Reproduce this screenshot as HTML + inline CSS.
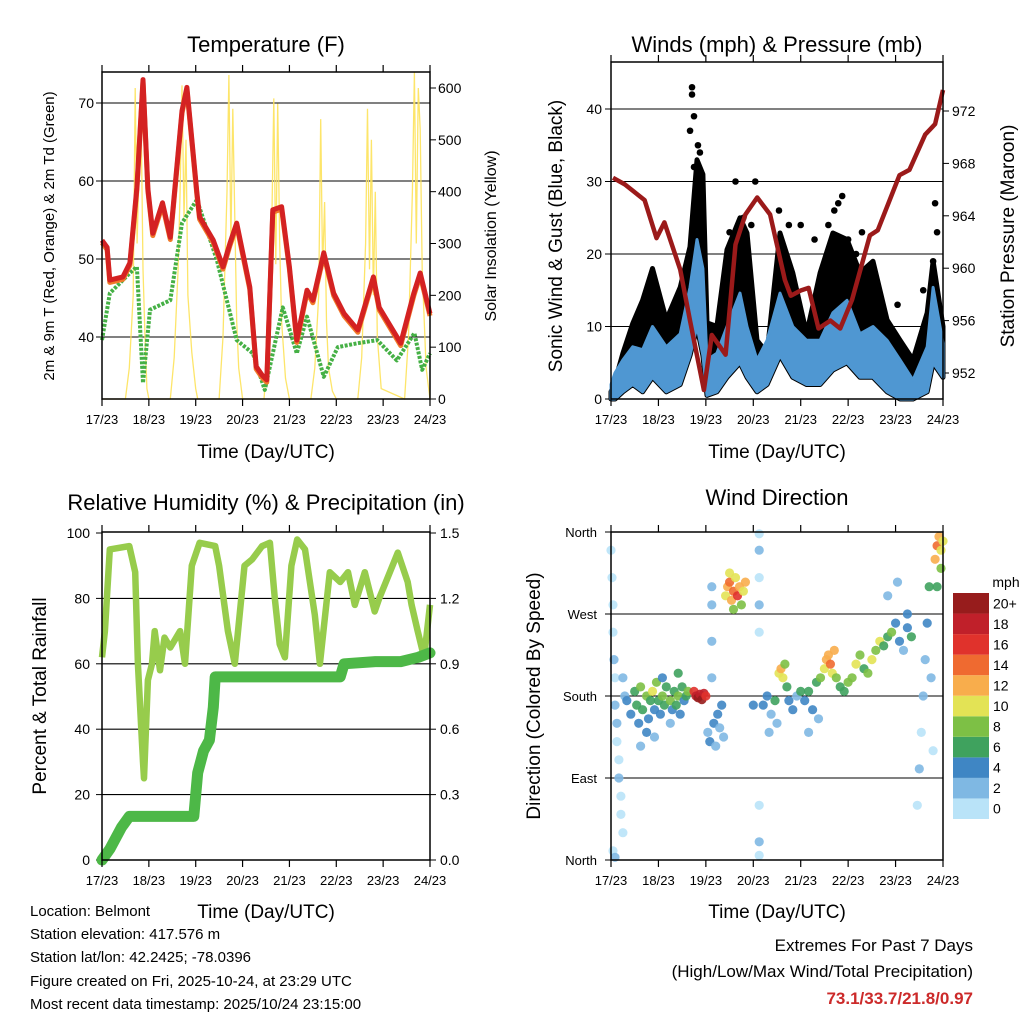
<!DOCTYPE html>
<html><head><meta charset="utf-8">
<style>
html,body{margin:0;padding:0;background:#fff;}
svg{display:block;font-family:"Liberation Sans",Arial,sans-serif;}
</style></head>
<body>
<svg id="fig" width="1024" height="1024" viewBox="0 0 1024 1024" xmlns="http://www.w3.org/2000/svg">
<g id="layer"></g>
<text x="30" y="916" font-size="15">Location: Belmont</text>
<text x="30" y="939" font-size="15">Station elevation: 417.576 m</text>
<text x="30" y="962" font-size="15">Station lat/lon: 42.2425; -78.0396</text>
<text x="30" y="986" font-size="15">Figure created on Fri, 2025-10-24, at 23:29 UTC</text>
<text x="30" y="1009" font-size="15">Most recent data timestamp: 2025/10/24 23:15:00</text>
<text x="973" y="951" font-size="17" text-anchor="end">Extremes For Past 7 Days</text>
<text x="973" y="977" font-size="17" text-anchor="end">(High/Low/Max Wind/Total Precipitation)</text>
<text x="973" y="1004" font-size="17" font-weight="bold" fill="#cc2a2a" text-anchor="end">73.1/33.7/21.8/0.97</text>
</svg>
<script>
// ---------- DATA ----------
const xTickLabels = ["17/23","18/23","19/23","20/23","21/23","22/23","23/23","24/23"];
// Temperature panel
const tHours = [0,2.6,4,10.7,14.3,17.9,21,23.5,26,31,35,36.3,41,43.5,48.6,50,57,62,65.5,69,75.7,79,82,84.4,87.5,92,96,99.8,105,108,113.6,118.7,124,131,139,142,153,159.7,163,168];
const tempVals = [52.4,51.5,47.3,47.7,49.5,59.2,73,59,53.3,57.2,52.8,56.3,69,72,58.5,55.4,52.4,49,52,54.6,46.4,36.2,35.1,34.5,56.3,56.7,49,39.6,46,44.7,50.8,45.6,43,40.9,47.7,43.8,39.2,45.6,48.2,43];
const tdHours = [0,4,14.3,17.9,21,24.6,35,41,48.6,58.8,69,77.3,83.4,92.6,99.8,105,113.6,120.8,131,141,151,160,164,168];
const tdVals = [39.6,45.6,48.2,49,34.1,43.5,44.7,54.6,57.6,49.9,39.6,37.9,33.2,43.8,37.9,42.6,34.9,38.7,39.2,39.6,37,40.5,35.8,37.9];
const solarHours = [0,12,14,16,17,18,19,20,21,22,23,24,35,37,39,40,41,42,43,44,46,48,49,60,62,64,65,66,67,68,69,70,72,83,85,87,88,89,90,91,92,94,96,107,109,111,112,113,114,115,116,118,120,131,133,135,136,137,138,139,140,141,143,155,157,159,160,161,162,163,164,166,168];
const solarVals = [0,0,60,200,600,300,450,560,250,120,20,0,0,80,250,400,605,350,500,200,90,20,0,0,120,400,625,300,560,350,150,60,0,0,100,350,580,260,570,300,150,40,0,0,60,200,540,250,380,150,60,15,0,0,80,300,560,250,500,200,400,120,20,0,120,400,630,300,600,520,250,60,0];
const solarTicks = [0,100,200,300,400,500,600];
const tempTicks = [40,50,60,70];
// Wind panel
const windHours = [0,2,6,11,16,21,28,35,40,43.5,46.5,48.6,53.6,58.7,65.3,68.8,73.9,79,85.5,92,99,105.8,112.3,119.4,126,132.6,139.7,146.3,152.8,160,163,168];
const windLo = [0,0,1,2,1,3,1,2,6,10,6,0.5,1,3,5,3,1,2,6,3,2,2,4,5,3,3,1,0,0,1,5,3];
const windHi = [2,3.6,5.4,7.2,6.8,10,7.2,9,15.4,22,18,5.4,6.3,10,14.6,10,5.4,8.1,14.6,10,8.1,8.1,11.9,13.6,9,10,8.1,5.4,2.6,7.2,15.4,7.7];
const gustHi = [1,2.4,6.3,10.4,13.6,18,10.9,15.4,21,33,31,10.5,10,20.6,25,22.9,8.1,6.3,22.9,17.4,9,17.4,22.9,22,17.4,19,10.9,8.1,5.4,11.9,19,10];
const gustOutlierHours = [40,41,41,42,44,45,42,60,63,67,71,73,85,90,96,103,110,113,115,117,120,124,127,145,158,163,164,165];
const gustOutlierVals = [37,43,42,39,35,34,32,23,30,25,24,30,26,24,24,22,24,26,27,28,22,20,23,13,15,19,27,23];
const presHours = [1,7,17,23,27,35,40,47,51,58,63,68,74,80.5,88,91,96,100,105,111,116,122,131,135,146,151,159,164,168];
const presVals = [966.9,966.4,965.2,962.3,963.5,959.9,956.0,950.7,954.9,953.4,961.8,964.1,965.4,964.1,959.1,957.9,958.3,958.5,955.4,956.0,955.4,957.6,962.5,962.9,967.1,967.5,970.2,971.0,973.6];
const windTicks = [0,10,20,30,40];
const presTicks = [952,956,960,964,968,972];
// RH panel
const rhHours = [0,1.5,4,14,17,18.4,21,21.5,23.5,25.6,27,29.7,32,35,40,42.5,46,50,58,60,64.5,68,73,77,82,86,88.5,91,93.7,97,100,104,109,111.6,116.7,122,126,129.5,134.6,139.7,142,151.5,156.6,158.6,161.7,165,168];
const rhVals = [62,70,95,96,88,60,30,25,55,60,70,58,68,65,70,60,90,97,96,90,70,60,90,92,96,97,80,66,62,90,98,95,75,60,88,85,88,78,88,76,80,94,85,78,70,62,78];
const precipHours = [0,4,10,14,47,49,52,55,57,58,122,124,140,153,162,168];
const precipVals = [0,0.05,0.15,0.2,0.2,0.4,0.5,0.55,0.7,0.84,0.84,0.9,0.91,0.91,0.93,0.95];
const rhTicks = [0,20,40,60,80,100];
const precipTicks = ["0.0","0.3","0.6","0.9","1.2","1.5"];
// Wind direction panel
const dirHours = [0,0.5,1,1,1.5,2,2,3,3,4,4,5,5,6,1,2,6,7,
 8,10,12,13,14,15,16,18,19,20,21,22,23,24,25,26,27,28,30,31,32,33,34,35,36,37,38,39,15,18,22,26,30,34,
 42,43,44,45,46,47,48,
 49,50,51,51,51,51,52,53,54,55,56,57,
 58,59,60,61,62,63,64,65,66,67,68,62,60,
 75,75,75,75,75,75,75,75,72,
 77,79,81,83,85,86,87,88,89,90,92,94,96,80,84,
 98,100,102,104,106,108,109,110,111,112,113,114,116,118,120,100,105,
 122,124,126,128,130,132,134,136,
 138,140,142,144,146,148,150,152,140,145,150,
 155,156,157,158,159,160,161,162,163,
 164,165,166,167,168,165,167];
const dirVals = [340,310,280,250,220,200,170,150,130,110,90,70,50,30,10,3,200,180,
 175,160,185,170,150,190,165,180,155,175,185,165,195,175,160,180,170,190,175,165,185,170,180,160,190,175,180,185,125,140,135,200,150,205,
 185,180,178,182,176,183,180,
 140,130,200,240,280,300,150,125,160,145,170,135,
 290,300,305,285,295,310,290,300,280,295,305,275,315,
 250,280,310,340,358,20,60,5,170,
 170,180,160,175,205,210,200,215,190,175,165,180,185,140,150,
 175,185,165,195,200,210,220,225,215,205,230,200,190,185,195,140,155,
 200,215,225,210,205,220,230,240,
 235,245,250,260,240,230,255,245,290,305,270,
 60,100,140,180,220,260,300,200,120,
 330,345,355,340,350,300,320];
const dirSpeeds = [1,1,0,1,2,1,2,2,1,1,2,1,0,1,1,2,3,2,
 4,5,6,7,5,8,6,9,4,7,10,5,8,6,5,9,7,6,8,5,7,6,9,4,6,5,7,8,3,4,2,5,3,6,
 17,19,20,18,21,19,17,
 3,4,2,2,3,2,4,3,5,3,4,2,
 11,13,15,12,14,10,16,12,9,11,13,8,10,
 1,2,1,2,1,2,1,1,4,
 4,5,3,6,10,12,11,9,7,5,4,3,6,2,3,
 5,6,4,7,8,10,12,13,14,11,12,9,7,6,8,3,3,
 8,10,9,7,8,10,9,11,
 7,6,8,5,4,3,5,6,3,2,4,
 1,2,1,2,3,4,6,3,1,
 12,14,13,10,11,7,9];
const dirTickLabels = ["North","East","South","West","North"];
const dirTickVals = [0,90,180,270,360];
const cbLabels = ["0","2","4","6","8","10","12","14","16","18","20+"];
const cbColors = ["#b9e3f8","#7fb8e3","#3f86c4","#3fa25e","#7dc045","#e3e355","#f8ad4c","#ef6a30","#e0322c","#c0202a","#971c1c"];

// ---------- HELPERS ----------
const NS = "http://www.w3.org/2000/svg";
const layer = document.getElementById("layer");
function mk(tag, attrs, parent){
  const e = document.createElementNS(NS, tag);
  for (const k in attrs) e.setAttribute(k, attrs[k]);
  (parent||layer).appendChild(e);
  return e;
}
function txt(x,y,s,size,anchor,name,rot){
  const t = mk("text",{x:x,y:y,"font-size":size,"text-anchor":anchor||"middle"});
  if (rot) t.setAttribute("transform","rotate(-90 "+x+" "+y+")");
  t.textContent = s;
  
  
  return t;
}
function lin(d0,d1,r0,r1){ return v => r0 + (v-d0)/(d1-d0)*(r1-r0); }
function pathD(xs,ys,fx,fy){ return xs.map((h,i)=>(i?"L":"M")+fx(h).toFixed(1)+" "+fy(ys[i]).toFixed(1)).join(" "); }
function bandD(xs,hi,lo,fx,fy){
  return pathD(xs,hi,fx,fy)+" "+xs.slice().reverse().map((h,i)=>"L"+fx(h).toFixed(1)+" "+fy(lo[lo.length-1-i]).toFixed(1)).join(" ")+" Z";
}

function frame(x0,y0,x1,y1,name,fx){
  const r = mk("rect",{x:x0,y:y0,width:x1-x0,height:y1-y0,fill:"none",stroke:"#000","stroke-width":1.5});
  
  
  xTickLabels.forEach((l,i)=>{
    const x = fx(i*24);
    mk("line",{x1:x,y1:y1,x2:x,y2:y1+7,stroke:"#000","stroke-width":1.2});
    mk("line",{x1:x,y1:y0,x2:x,y2:y0-7,stroke:"#000","stroke-width":1.2});
    txt(x,y1+25,l,13,"middle","x-tick-label");
  });
}
function hgrid(x0,x1,y,name){
  const l = mk("line",{x1:x0,y1:y,x2:x1,y2:y,stroke:"#000","stroke-width":1.1});
  
  
}

// ---------- PANEL 1: TEMPERATURE ----------
(function(){
  const X0=102,X1=430,Y0=72,Y1=399;
  const fx = lin(0,168,X0,X1);
  const fy = lin(40,70,337,103);
  const fs = lin(0,600,399,88);
  tempTicks.forEach(v=>{ hgrid(X0,X1,fy(v),"temp-gridline"); txt(X0-8,fy(v)+5,String(v),14,"end","temp-y-tick"); mk("line",{x1:X0,y1:fy(v),x2:X0-6,y2:fy(v),stroke:"#000"}); });
  solarTicks.forEach(v=>{ txt(X1+8,fs(v)+5,String(v),14,"start","solar-y-tick"); mk("line",{x1:X1,y1:fs(v),x2:X1+6,y2:fs(v),stroke:"#000"}); });
  const s = mk("path",{d:pathD(solarHours,solarVals,fx,fs),fill:"none",stroke:"#fde25a","stroke-width":1.3,opacity:0.9});
  
  
  const td = mk("path",{d:pathD(tdHours,tdVals,fx,fy),fill:"none",stroke:"#45b045","stroke-width":4,"stroke-dasharray":"3 1.5","stroke-linejoin":"round"});
  
  
  const t9 = mk("path",{d:pathD(tHours,tempVals.map(v=>v-0.3),fx,fy),fill:"none",stroke:"#f07a2a","stroke-width":5,"stroke-linejoin":"round"});
  
  
  const t2 = mk("path",{d:pathD(tHours,tempVals,fx,fy),fill:"none",stroke:"#d42222","stroke-width":5,"stroke-linejoin":"round"});
  
  
  frame(X0,Y0,X1,Y1,"temperature-plot-frame",fx);
  txt(266,52,"Temperature (F)",22,"middle","temperature-title");
  txt(266,458,"Time (Day/UTC)",19,"middle","temperature-x-title");
  txt(54,236,"2m & 9m T (Red, Orange) & 2m Td (Green)",15,"middle","temperature-y-title",true);
  txt(496,236,"Solar Insolation (Yellow)",16,"middle","solar-y-title",true);
})();

// ---------- PANEL 2: WINDS ----------
(function(){
  const X0=611,X1=943,Y0=62,Y1=399;
  const fx = lin(0,168,X0,X1);
  const fy = lin(0,40,399,109);
  const fp = lin(952,972,373,111);
  windTicks.forEach(v=>{ if(v>0) hgrid(X0,X1,fy(v),"wind-gridline"); txt(X0-9,fy(v)+5,String(v),14,"end","wind-y-tick"); mk("line",{x1:X0,y1:fy(v),x2:X0-6,y2:fy(v),stroke:"#000"}); });
  presTicks.forEach(v=>{ txt(X1+9,fp(v)+5,String(v),14,"start","pressure-y-tick"); mk("line",{x1:X1,y1:fp(v),x2:X1+6,y2:fp(v),stroke:"#000"}); });
  const g = mk("path",{d:bandD(windHours,gustHi,windLo,fx,fy),fill:"#000",stroke:"#000","stroke-width":5,"stroke-linejoin":"round"});
  
  
  gustOutlierHours.forEach((h,i)=>{
    const c = mk("circle",{cx:fx(h),cy:fy(gustOutlierVals[i]),r:3.3,fill:"#000"});
    
    
  });
  const w = mk("path",{d:bandD(windHours,windHi,windLo,fx,fy),fill:"#4f97d2",stroke:"#4f97d2","stroke-width":3,"stroke-linejoin":"round"});
  
  
  const p = mk("path",{d:pathD(presHours,presVals,fx,fp),fill:"none",stroke:"#9b1a1a","stroke-width":4.5,"stroke-linejoin":"round"});
  
  
  frame(X0,Y0,X1,Y1,"winds-plot-frame",fx);
  txt(777,52,"Winds (mph) & Pressure (mb)",22,"middle","winds-title");
  txt(777,458,"Time (Day/UTC)",19,"middle","winds-x-title");
  txt(562,236,"Sonic Wind & Gust (Blue, Black)",19,"middle","winds-y-title",true);
  txt(1014,236,"Station Pressure (Maroon)",19,"middle","pressure-y-title",true);
})();

// ---------- PANEL 3: RH ----------
(function(){
  const X0=102,X1=430,Y0=532,Y1=860;
  const fx = lin(0,168,X0,X1);
  const fy = lin(0,100,860,533);
  const fr = lin(0,1.5,860,533);
  rhTicks.forEach(v=>{ if(v>0&&v<100) hgrid(X0,X1,fy(v),"rh-gridline"); txt(X0-12,fy(v)+5,String(v),14,"end","rh-y-tick"); mk("line",{x1:X0,y1:fy(v),x2:X0-6,y2:fy(v),stroke:"#000"}); });
  precipTicks.forEach(v=>{ txt(X1+10,fr(+v)+5,v,14,"start","precip-y-tick"); mk("line",{x1:X1,y1:fr(+v),x2:X1+6,y2:fr(+v),stroke:"#000"}); });
  const rh = mk("path",{d:pathD(rhHours,rhVals,fx,fy),fill:"none",stroke:"#97cc4c","stroke-width":6.5,"stroke-linejoin":"round"});
  
  
  const pr = mk("path",{d:pathD(precipHours,precipVals,fx,fr),fill:"none",stroke:"#4db847","stroke-width":11,"stroke-linejoin":"round","stroke-linecap":"round"});
  
  
  frame(X0,Y0,X1,Y1,"rh-plot-frame",fx);
  txt(266,510,"Relative Humidity (%) & Precipitation (in)",22,"middle","rh-title");
  txt(266,918,"Time (Day/UTC)",19,"middle","rh-x-title");
  txt(46,696,"Percent & Total Rainfall",19,"middle","rh-y-title",true);
})();

// ---------- PANEL 4: WIND DIRECTION ----------
(function(){
  const X0=611,X1=943,Y0=532,Y1=860;
  const fx = lin(0,168,X0,X1);
  const fy = lin(0,360,860,532);
  dirTickVals.forEach((v,i)=>{ if(v>0&&v<360) hgrid(X0,X1,fy(v),"direction-gridline"); txt(X0-14,fy(v)+5,dirTickLabels[i],13,"end","direction-y-tick"); mk("line",{x1:X0,y1:fy(v),x2:X0-6,y2:fy(v),stroke:"#000"}); });
  dirHours.forEach((h,i)=>{
    const bin = Math.min(10,Math.floor(dirSpeeds[i]/2));
    const c = mk("circle",{cx:fx(h).toFixed(1),cy:fy(dirVals[i]).toFixed(1),r:4.6,fill:cbColors[bin],opacity:0.9});
    
    
  });
  frame(X0,Y0,X1,Y1,"direction-plot-frame",fx);
  txt(777,505,"Wind Direction",22,"middle","direction-title");
  txt(777,918,"Time (Day/UTC)",19,"middle","direction-x-title");
  txt(540,696,"Direction (Colored By Speed)",19,"middle","direction-y-title",true);
  const cy0=593, cy1=819, bh=(cy1-cy0)/cbColors.length;
  cbColors.forEach((col,i)=>{
    const y = cy1-(i+1)*bh;
    const r = mk("rect",{x:953,y:y,width:36,height:bh,fill:col});
    
    
    txt(993,y+bh/2+5,cbLabels[i],14,"start","colorbar-label");
  });
  txt(1006,587,"mph",14,"middle","colorbar-title");
})();
</script>
</body></html>
